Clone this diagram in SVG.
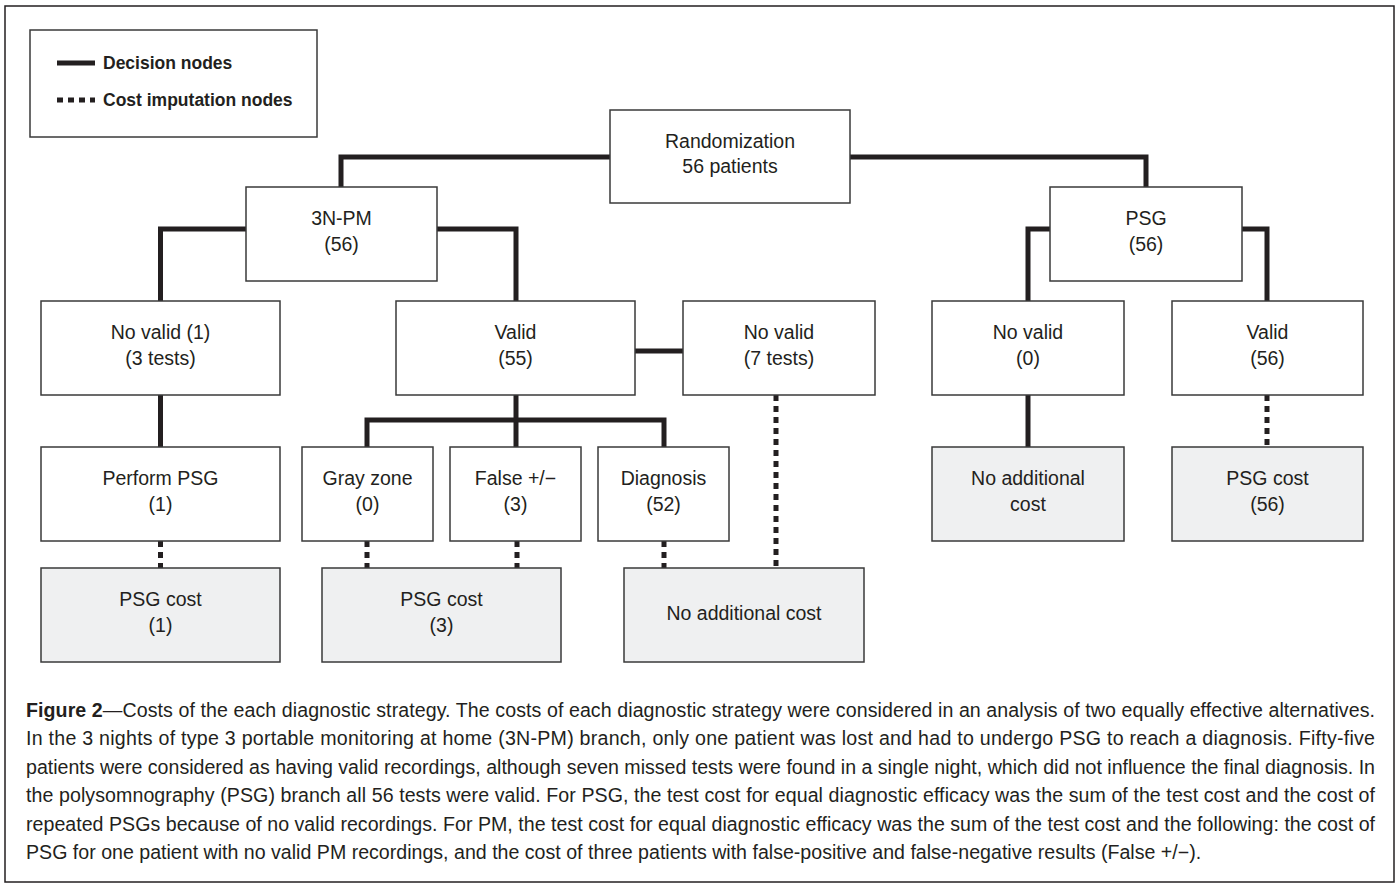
<svg xmlns="http://www.w3.org/2000/svg" width="1399" height="888" viewBox="0 0 1399 888">
<style>
.frame{fill:#fff;stroke:#231f20;stroke-width:1.5}
.box{fill:#fff;stroke:#3a3a3a;stroke-width:1.5}
.cost{fill:#eff0f1;stroke:#3a3a3a;stroke-width:1.5}
.solid{fill:none;stroke:#231f20;stroke-width:5;stroke-linejoin:miter;stroke-linecap:butt}
.dot{fill:none;stroke:#231f20;stroke-width:5;stroke-dasharray:6 5}
.t{font-family:"Liberation Sans",Arial,sans-serif;font-size:19.5px;fill:#231f20;text-anchor:middle}
.lg{font-family:"Liberation Sans",Arial,sans-serif;font-size:17.5px;font-weight:bold;fill:#231f20}
.cap{font-family:"Liberation Sans",Arial,sans-serif;font-size:19.6px;fill:#231f20}
</style>
<rect class="frame" x="5" y="6" width="1389" height="876"/>
<g id="legend">
<rect class="box" x="30" y="30" width="287" height="107"/>
<line class="solid" x1="57" y1="63" x2="95" y2="63"/>
<text class="lg" x="103" y="69">Decision nodes</text>
<line class="dot" x1="57" y1="100" x2="95" y2="100"/>
<text class="lg" x="103" y="106">Cost imputation nodes</text>
</g>
<g id="connectors">
<path class="solid" d="M610,157 H341 V187"/>
<path class="solid" d="M850,157 H1146 V187"/>
<path class="solid" d="M246,229 H160.5 V301"/>
<path class="solid" d="M437,229 H516 V301"/>
<path class="solid" d="M1050,229 H1028 V301"/>
<path class="solid" d="M1242,229 H1267 V301"/>
<path class="solid" d="M635,351 H683"/>
<path class="solid" d="M160.5,395 V447"/>
<path class="solid" d="M516,395 V447"/>
<path class="solid" d="M367,447 V420 H664 V447"/>
<path class="solid" d="M1028,395 V447"/>
<path class="dot" d="M160.5,541 V568"/>
<path class="dot" d="M367,541 V568"/>
<path class="dot" d="M517,541 V568"/>
<path class="dot" d="M664,541 V568"/>
<path class="dot" d="M776,395 V568"/>
<path class="dot" d="M1267,395 V447"/>
</g>
<g id="randomization"><rect class="box" x="610" y="110" width="240" height="93"/><text class="t" x="730" y="148">Randomization</text><text class="t" x="730" y="173">56 patients</text></g>
<g id="n3npm"><rect class="box" x="246" y="187" width="191" height="94"/><text class="t" x="341.5" y="225">3N-PM</text><text class="t" x="341.5" y="251">(56)</text></g>
<g id="psg"><rect class="box" x="1050" y="187" width="192" height="94"/><text class="t" x="1146" y="225">PSG</text><text class="t" x="1146" y="251">(56)</text></g>
<g id="novalid1"><rect class="box" x="41" y="301" width="239" height="94"/><text class="t" x="160.5" y="339">No valid (1)</text><text class="t" x="160.5" y="365">(3 tests)</text></g>
<g id="valid55"><rect class="box" x="396" y="301" width="239" height="94"/><text class="t" x="515.5" y="339">Valid</text><text class="t" x="515.5" y="365">(55)</text></g>
<g id="novalid7"><rect class="box" x="683" y="301" width="192" height="94"/><text class="t" x="779" y="339">No valid</text><text class="t" x="779" y="365">(7 tests)</text></g>
<g id="novalid0"><rect class="box" x="932" y="301" width="192" height="94"/><text class="t" x="1028" y="339">No valid</text><text class="t" x="1028" y="365">(0)</text></g>
<g id="valid56"><rect class="box" x="1172" y="301" width="191" height="94"/><text class="t" x="1267.5" y="339">Valid</text><text class="t" x="1267.5" y="365">(56)</text></g>
<g id="performpsg"><rect class="box" x="41" y="447" width="239" height="94"/><text class="t" x="160.5" y="485">Perform PSG</text><text class="t" x="160.5" y="511">(1)</text></g>
<g id="grayzone"><rect class="box" x="302" y="447" width="131" height="94"/><text class="t" x="367.5" y="485">Gray zone</text><text class="t" x="367.5" y="511">(0)</text></g>
<g id="falsepm"><rect class="box" x="450" y="447" width="131" height="94"/><text class="t" x="515.5" y="485">False +/−</text><text class="t" x="515.5" y="511">(3)</text></g>
<g id="diagnosis"><rect class="box" x="598" y="447" width="131" height="94"/><text class="t" x="663.5" y="485">Diagnosis</text><text class="t" x="663.5" y="511">(52)</text></g>
<g id="noaddcost0"><rect class="cost" x="932" y="447" width="192" height="94"/><text class="t" x="1028" y="485">No additional</text><text class="t" x="1028" y="511">cost</text></g>
<g id="psgcost56"><rect class="cost" x="1172" y="447" width="191" height="94"/><text class="t" x="1267.5" y="485">PSG cost</text><text class="t" x="1267.5" y="511">(56)</text></g>
<g id="psgcost1"><rect class="cost" x="41" y="568" width="239" height="94"/><text class="t" x="160.5" y="606">PSG cost</text><text class="t" x="160.5" y="632">(1)</text></g>
<g id="psgcost3"><rect class="cost" x="322" y="568" width="239" height="94"/><text class="t" x="441.5" y="606">PSG cost</text><text class="t" x="441.5" y="632">(3)</text></g>
<g id="noaddcost"><rect class="cost" x="624" y="568" width="240" height="94"/><text class="t" x="744" y="620">No additional cost</text></g>
<g id="caption">
<text class="cap" x="26" y="716.5" textLength="1349" lengthAdjust="spacing"><tspan font-weight="bold">Figure 2</tspan>—Costs of the each diagnostic strategy. The costs of each diagnostic strategy were considered in an analysis of two equally effective alternatives.</text>
<text class="cap" x="26" y="745" textLength="1349" lengthAdjust="spacing">In the 3 nights of type 3 portable monitoring at home (3N-PM) branch, only one patient was lost and had to undergo PSG to reach a diagnosis. Fifty-five</text>
<text class="cap" x="26" y="773.5" textLength="1349" lengthAdjust="spacing">patients were considered as having valid recordings, although seven missed tests were found in a single night, which did not influence the final diagnosis. In</text>
<text class="cap" x="26" y="802" textLength="1349" lengthAdjust="spacing">the polysomnography (PSG) branch all 56 tests were valid. For PSG, the test cost for equal diagnostic efficacy was the sum of the test cost and the cost of</text>
<text class="cap" x="26" y="830.5" textLength="1349" lengthAdjust="spacing">repeated PSGs because of no valid recordings. For PM, the test cost for equal diagnostic efficacy was the sum of the test cost and the following: the cost of</text>
<text class="cap" x="26" y="859">PSG for one patient with no valid PM recordings, and the cost of three patients with false-positive and false-negative results (False +/−).</text>
</g>
</svg>
